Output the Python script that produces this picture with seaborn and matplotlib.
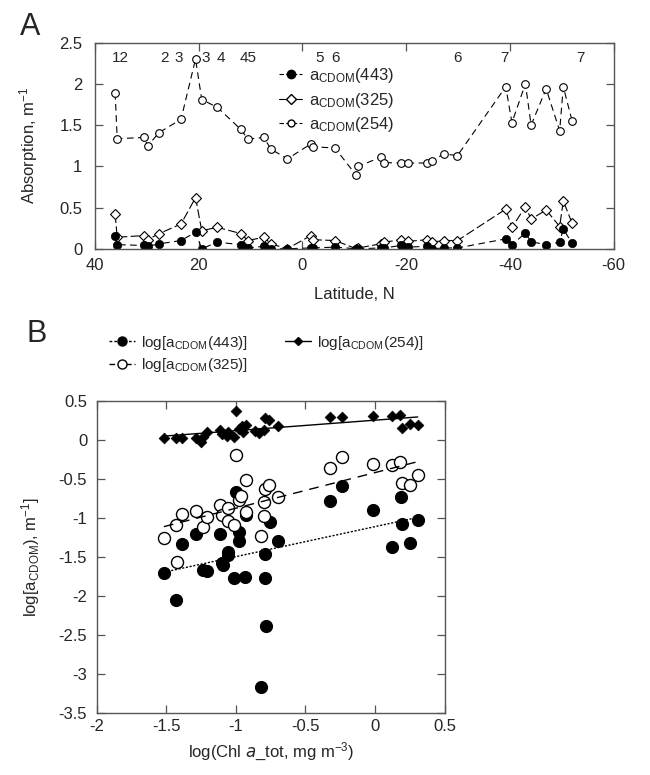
import numpy as np
import pandas as pd
import matplotlib
matplotlib.use("Agg")
import matplotlib.pyplot as plt
import seaborn as sns
from matplotlib.lines import Line2D
from matplotlib.ticker import FuncFormatter, MultipleLocator

# ---------------- Panel A data ----------------
lat = [36.1, 35.7, 30.5, 29.8, 27.6, 23.4, 20.6, 19.4, 16.4, 11.9, 10.5, 7.4, 6.1, 2.9,
       -1.6, -2.0, -6.3, -10.4, -10.8, -15.1, -15.8, -19.0, -20.4, -24.1, -25.0, -27.3,
       -29.9, -39.2, -40.4, -43.0, -44.1, -47.0, -49.6, -50.3, -52.0]
a443 = [0.16, 0.05, 0.04, 0.03, 0.06, 0.10, 0.20, 0.00, 0.08, 0.05, 0.01, 0.03, 0.00, 0.00,
        0.01, 0.01, 0.02, 0.00, 0.00, 0.01, 0.01, 0.04, 0.02, 0.03, 0.00, 0.01,
        0.01, 0.12, 0.05, 0.19, 0.085, 0.05, 0.08, 0.24, 0.065]
a325 = [0.42, 0.14, 0.16, 0.11, 0.185, 0.30, 0.62, 0.22, 0.26, 0.185, 0.10, 0.14, 0.06, 0.00,
        0.16, 0.11, 0.10, 0.00, 0.01, 0.06, 0.08, 0.11, 0.09, 0.11, 0.08, 0.10,
        0.10, 0.48, 0.26, 0.51, 0.36, 0.47, 0.27, 0.58, 0.31]
a254 = [1.89, 1.335, 1.35, 1.25, 1.41, 1.57, 2.30, 1.81, 1.715, 1.45, 1.33, 1.35, 1.21, 1.09,
        1.27, 1.24, 1.22, 0.89, 1.00, 1.11, 1.045, 1.04, 1.04, 1.04, 1.07, 1.15,
        1.13, 1.965, 1.53, 2.00, 1.50, 1.94, 1.43, 1.965, 1.55]
station_lat = [35.0, 26.6, 23.9, 18.7, 15.8, 10.5, -3.3, -6.4, -29.9, -39.0, -53.6]
station_labels = ["12", "2", "3", "3", "4", "45", "5", "6", "6", "7", "7"]

# ---------------- Panel B data ----------------
chl_443 = [-1.518, -1.432, -1.391, -1.288, -1.235, -1.211, -1.115, -1.103, -1.096, -1.060,
           -1.055, -1.014, -1.002, -0.976, -0.976, -0.933, -0.928, -0.823, -0.791, -0.791,
           -0.787, -0.755, -0.695, -0.324, -0.235, -0.012, 0.125, 0.187, 0.192, 0.252, 0.312]
log_443 = [-1.701, -2.051, -1.333, -1.205, -1.667, -1.679, -1.205, -1.573, -1.603, -1.432,
           -1.474, -1.774, -0.675, -1.188, -1.291, -1.752, -0.962, -3.171, -1.462, -1.765,
           -2.385, -1.060, -1.303, -0.782, -0.590, -0.897, -1.380, -0.739, -1.077, -1.325, -1.026]

chl_325 = [-1.518, -1.427, -1.434, -1.391, -1.288, -1.235, -1.211, -1.115, -1.103, -1.060,
           -1.060, -1.014, -1.002, -0.976, -0.966, -0.928, -0.928, -0.823, -0.791, -0.760,
           -0.796, -0.796, -0.695, -0.324, -0.235, -0.012, 0.125, 0.180, 0.192, 0.252, 0.307]
log_325 = [-1.261, -1.560, -1.090, -0.953, -0.919, -1.120, -0.991, -0.833, -0.970, -0.876,
           -1.047, -1.090, -0.201, -0.778, -0.726, -0.513, -0.932, -1.227, -0.632, -0.577,
           -0.803, -0.974, -0.739, -0.363, -0.226, -0.312, -0.329, -0.291, -0.556, -0.577, -0.449]

chl_254 = [-1.518, -1.434, -1.391, -1.288, -1.254, -1.235, -1.211, -1.115, -1.103, -1.067,
           -1.060, -1.014, -1.000, -0.976, -0.959, -0.947, -0.928, -0.863, -0.832, -0.799,
           -0.791, -0.760, -0.695, -0.324, -0.240, -0.012, 0.125, 0.180, 0.192, 0.252, 0.307]
log_254 = [0.021, 0.021, 0.021, 0.021, -0.034, 0.034, 0.098, 0.128, 0.077, 0.043,
           0.098, 0.034, 0.363, 0.137, 0.171, 0.094, 0.192, 0.107, 0.085, 0.128,
           0.278, 0.248, 0.171, 0.291, 0.291, 0.299, 0.299, 0.312, 0.154, 0.197, 0.184]

sns.set_theme(style="ticks")
plt.rcParams['font.family'] = ['Liberation Sans', 'DejaVu Sans']
plt.rcParams['mathtext.default'] = 'regular'
plt.rcParams['axes.unicode_minus'] = False

SPINE = '#555555'
fig = plt.figure(figsize=(6.5, 7.75), dpi=100)
axA = fig.add_axes([0.146, 0.679, 0.798, 0.266])
axB = fig.add_axes([0.149, 0.080, 0.535, 0.403])

gfmt = FuncFormatter(lambda v, p: '%g' % v)

# ---------- Panel A ----------
lw = 0.8
sns.lineplot(x=lat, y=a254, sort=False, estimator=None, ax=axA, color='black', lw=lw,
             linestyle=(0, (6, 4)), marker='o', markersize=5.5, markerfacecolor='white',
             markeredgecolor='black', markeredgewidth=0.8)
sns.lineplot(x=lat, y=a325, sort=False, estimator=None, ax=axA, color='black', lw=lw,
             linestyle=(0, (8, 3)), marker='D', markersize=5, markerfacecolor='white',
             markeredgecolor='black', markeredgewidth=0.8)
sns.lineplot(x=lat, y=a443, sort=False, estimator=None, ax=axA, color='black', lw=lw,
             linestyle=(0, (6, 4)), marker='o', markersize=6, markerfacecolor='black',
             markeredgecolor='black', markeredgewidth=0.5)
for sl, lab in zip(station_lat, station_labels):
    axA.text(sl, 2.31, lab, ha='center', va='center', fontsize=11)

axA.set_xlim(40, -60)
axA.set_ylim(0, 2.5)
axA.xaxis.set_major_locator(MultipleLocator(20))
axA.yaxis.set_major_locator(MultipleLocator(0.5))
axA.xaxis.set_major_formatter(gfmt)
axA.yaxis.set_major_formatter(gfmt)
axA.set_xlabel("Latitude, N", fontsize=12, labelpad=10)
axA.set_ylabel("Absorption, m$^{-1}$", fontsize=12, labelpad=14)

hA = [Line2D([], [], color='black', lw=lw, ls=(0, (4, 2)), marker='o', ms=6, mfc='black', mec='black'),
      Line2D([], [], color='black', lw=lw, ls='-', marker='D', ms=5, mfc='white', mec='black'),
      Line2D([], [], color='black', lw=lw, ls=(0, (4, 2)), marker='o', ms=5, mfc='white', mec='black')]
lA = [r"a$_{CDOM}$(443)", r"a$_{CDOM}$(325)", r"a$_{CDOM}$(254)"]
axA.legend(hA, lA, loc='upper left', bbox_to_anchor=(0.355, 0.885), frameon=False, fontsize=12,
           handlelength=1.4, handletextpad=0.4, labelspacing=0.33, borderpad=0, borderaxespad=0)

# ---------- Panel B ----------
sns.scatterplot(x=chl_443, y=log_443, ax=axB, color='black', marker='o', s=75, edgecolor='black',
                linewidth=0.8, zorder=3)
sns.scatterplot(x=chl_325, y=log_325, ax=axB, color='white', marker='o', s=75, edgecolor='black',
                linewidth=1.0, zorder=4)
sns.scatterplot(x=chl_254, y=log_254, ax=axB, color='black', marker='D', s=30, edgecolor='black',
                linewidth=0.5, zorder=5)
sns.regplot(x=chl_443, y=log_443, ax=axB, scatter=False, ci=None, truncate=True,
            line_kws=dict(color='black', lw=1.0, ls=(0, (1.5, 1.2)), zorder=6))
sns.regplot(x=chl_325, y=log_325, ax=axB, scatter=False, ci=None, truncate=True,
            line_kws=dict(color='black', lw=1.0, ls=(0, (7, 5)), zorder=6))
sns.regplot(x=chl_254, y=log_254, ax=axB, scatter=False, ci=None, truncate=True,
            line_kws=dict(color='black', lw=1.0, ls='-', zorder=6))

axB.set_xlim(-2, 0.5)
axB.set_ylim(-3.5, 0.5)
axB.xaxis.set_major_locator(MultipleLocator(0.5))
axB.yaxis.set_major_locator(MultipleLocator(0.5))
axB.xaxis.set_major_formatter(gfmt)
axB.yaxis.set_major_formatter(gfmt)
axB.set_xlabel(r"log(Chl $\mathit{a}$_tot, mg m$^{-3}$)", fontsize=12, labelpad=5)
axB.set_ylabel(r"log[a$_{CDOM}$), m$^{-1}$]", fontsize=12, labelpad=12)

hB = [Line2D([], [], color='black', lw=1.0, ls=(0, (2, 1.5)), marker='o', ms=6.5, mfc='black', mec='black'),
      Line2D([], [], color='black', lw=1.0, ls=(0, (4, 2)), marker='o', ms=6.5, mfc='white', mec='black'),
      Line2D([], [], color='black', lw=1.0, ls='-', marker='D', ms=4.5, mfc='black', mec='black')]
lB = [r"log[a$_{CDOM}$(443)]", r"log[a$_{CDOM}$(325)]", r"log[a$_{CDOM}$(254)]"]
axB.legend(hB, lB, loc='lower left', bbox_to_anchor=(0.035, 1.085), ncol=2, frameon=False,
           fontsize=11, handlelength=1.7, handletextpad=0.4, labelspacing=0.3,
           columnspacing=2.4, borderpad=0, borderaxespad=0)

for ax in (axA, axB):
    ax.tick_params(direction='in', top=True, right=True, length=6, width=0.9, color=SPINE,
                   labelsize=12)
    for sp in ax.spines.values():
        sp.set_color(SPINE)
        sp.set_linewidth(1.0)
        sp.set_visible(True)
axA.tick_params(axis='x', pad=7)
axA.tick_params(axis='y', pad=9)
axB.tick_params(axis='x', pad=4)
axB.tick_params(axis='y', pad=7)

fig.text(0.046, 1 - 27 / 775, "A", fontsize=22, ha='center', va='center')
fig.text(0.056, 1 - 334 / 775, "B", fontsize=22, ha='center', va='center')

fig.savefig("out.png", dpi=100)
